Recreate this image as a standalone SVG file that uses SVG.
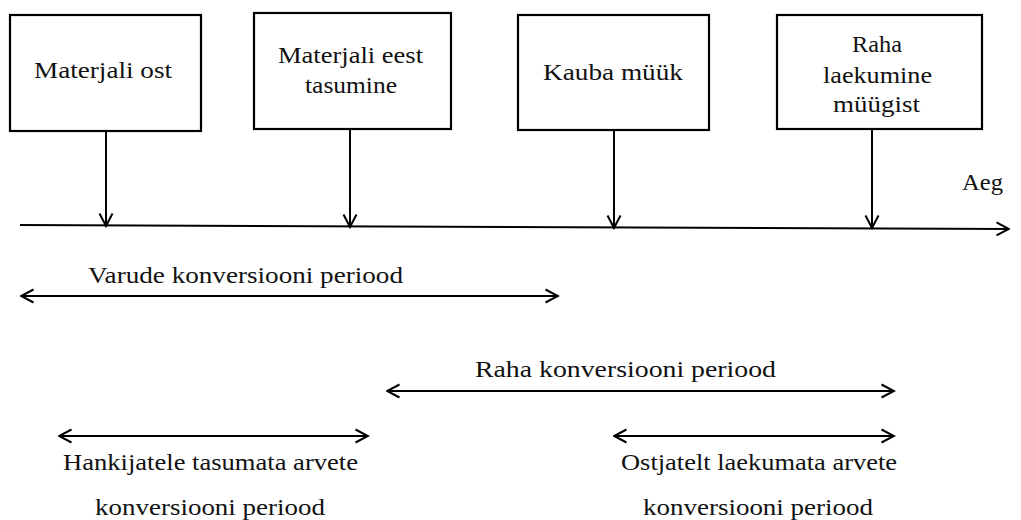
<svg xmlns="http://www.w3.org/2000/svg" width="1021" height="520" viewBox="0 0 1021 520">
<defs>
<style>
.box{fill:#fff;stroke:#000;stroke-width:2.2}
.ln{stroke:#000;stroke-width:2;fill:none}
text{font-family:"Liberation Serif","Times New Roman",serif;font-size:23px;fill:#111}
</style>
<marker id="ah" viewBox="0 0 16 16" refX="14.5" refY="8" markerWidth="16" markerHeight="16" markerUnits="userSpaceOnUse" orient="auto-start-reverse">
<path d="M2,1.5 L14.5,8 L2,14.5" fill="none" stroke="#000" stroke-width="2"/>
</marker>
</defs>
<rect width="1021" height="520" fill="#fff"/>
<g id="n1"><rect class="box" x="10" y="15" width="191" height="116"/><text x="34" y="78" textLength="138" lengthAdjust="spacingAndGlyphs">Materjali  ost</text></g>
<g id="n2"><rect class="box" x="254" y="13" width="197" height="116"/><text x="278" y="63" textLength="145" lengthAdjust="spacingAndGlyphs">Materjali  eest</text><text x="305" y="93" textLength="92" lengthAdjust="spacingAndGlyphs">tasumine</text></g>
<g id="n3"><rect class="box" x="518" y="15" width="191" height="115"/><text x="543" y="80" textLength="140" lengthAdjust="spacingAndGlyphs">Kauba müük</text></g>
<g id="n4"><rect class="box" x="777" y="15" width="205" height="114"/><text x="852" y="52" textLength="50" lengthAdjust="spacingAndGlyphs">Raha</text><text x="823" y="83" textLength="109" lengthAdjust="spacingAndGlyphs">laekumine</text><text x="833" y="112" textLength="87" lengthAdjust="spacingAndGlyphs">müügist</text></g>
<g id="connectors">
<line class="ln" x1="20" y1="225" x2="1009" y2="229" marker-end="url(#ah)"/>
<line class="ln" x1="106" y1="131" x2="106" y2="226" marker-end="url(#ah)"/>
<line class="ln" x1="350" y1="129" x2="350" y2="227" marker-end="url(#ah)"/>
<line class="ln" x1="614" y1="130" x2="614" y2="228" marker-end="url(#ah)"/>
<line class="ln" x1="872" y1="129" x2="872" y2="228" marker-end="url(#ah)"/>
<line class="ln" x1="21" y1="296" x2="558" y2="296" marker-start="url(#ah)" marker-end="url(#ah)"/>
<line class="ln" x1="387" y1="391" x2="894" y2="391" marker-start="url(#ah)" marker-end="url(#ah)"/>
<line class="ln" x1="59" y1="436" x2="368" y2="436" marker-start="url(#ah)" marker-end="url(#ah)"/>
<line class="ln" x1="614" y1="436" x2="894" y2="436" marker-start="url(#ah)" marker-end="url(#ah)"/>
</g>
<text x="962" y="190" textLength="41" lengthAdjust="spacingAndGlyphs">Aeg</text>
<text x="88" y="283" textLength="315" lengthAdjust="spacingAndGlyphs">Varude konversiooni periood</text>
<text x="475" y="377" textLength="301" lengthAdjust="spacingAndGlyphs">Raha konversiooni periood</text>
<text x="63" y="470" textLength="295" lengthAdjust="spacingAndGlyphs">Hankijatele tasumata  arvete</text>
<text x="95" y="515" textLength="230" lengthAdjust="spacingAndGlyphs">konversiooni periood</text>
<text x="621" y="470" textLength="276" lengthAdjust="spacingAndGlyphs">Ostjatelt  laekumata  arvete</text>
<text x="643" y="515" textLength="230" lengthAdjust="spacingAndGlyphs">konversiooni periood</text>
</svg>
